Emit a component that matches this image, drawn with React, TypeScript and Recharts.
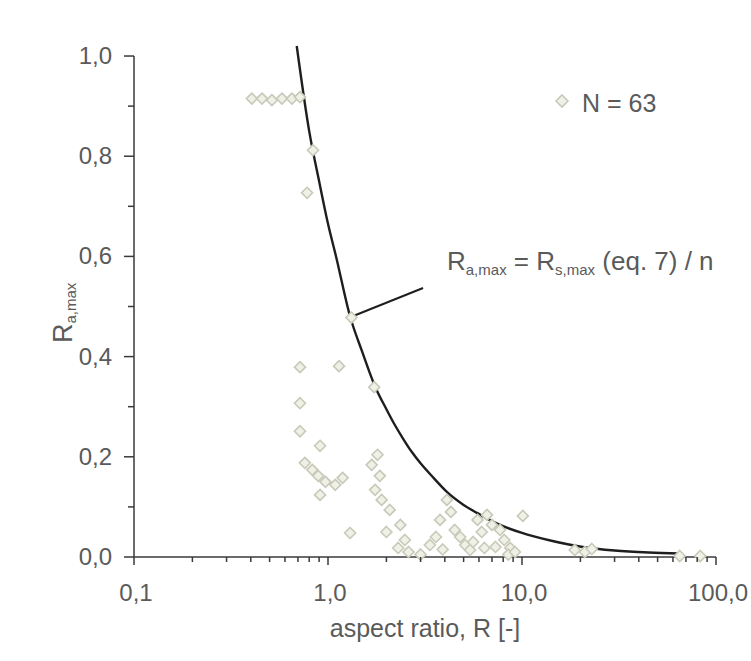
import React from 'react'
import { ComposedChart, Scatter, Line, XAxis, YAxis, ReferenceLine } from 'recharts'

// ── Data ──────────────────────────────────────────────────────────────────

const SCATTER_R = [
  0.405, 0.457, 0.514, 0.579, 0.652, 0.717,
  0.837, 0.78, 1.32, 1.14, 1.73,
  0.717, 0.717, 0.717, 0.91, 0.76, 0.83, 0.89, 0.97, 1.09, 1.19, 0.91, 1.3,
  1.8, 1.68, 1.85, 1.75, 1.89, 2.08, 2.36, 2.49, 2.3,
  4.1, 3.78, 3.35, 4.5, 5.1, 5.9, 6.6, 7.0, 7.7, 8.1, 8.7, 6.4, 5.4, 10.1,
  18.7, 21.1, 22.9, 65, 83,
  2.6, 3.0, 3.6, 4.3, 4.8, 5.6, 6.2, 7.3, 8.5, 9.2, 2.0, 3.9,
]
const SCATTER_Y = [
  0.915, 0.915, 0.912, 0.915, 0.915, 0.918,
  0.812, 0.727, 0.478, 0.381, 0.339,
  0.379, 0.307, 0.251, 0.222, 0.188, 0.174, 0.162, 0.15, 0.144, 0.158, 0.124, 0.048,
  0.204, 0.184, 0.162, 0.134, 0.114, 0.094, 0.064, 0.034, 0.018,
  0.114, 0.074, 0.024, 0.054, 0.024, 0.074, 0.084, 0.064, 0.054, 0.034, 0.018, 0.018, 0.014, 0.082,
  0.014, 0.01, 0.016, 0.002, 0.002,
  0.01, 0.005, 0.04, 0.09, 0.04, 0.03, 0.05, 0.02, 0.005, 0.01, 0.05, 0.015,
]

const CURVE_R = [0.69, 0.8, 0.9, 1.0, 1.1, 1.3, 1.5, 1.75, 2.0, 2.2, 2.44, 2.7, 3.0, 3.5, 4.1, 5.0, 5.86, 7.5, 10, 14, 20.6, 30, 45, 65]
const CURVE_Y = [1.02, 0.85, 0.75, 0.665, 0.6, 0.48, 0.41, 0.34, 0.295, 0.265, 0.236, 0.21, 0.187, 0.158, 0.13, 0.104, 0.088, 0.066, 0.048, 0.033, 0.02, 0.013, 0.009, 0.007]

const X_TICKS = [
  0.1, 0.2, 0.3, 0.4, 0.5, 0.6, 0.7, 0.8, 0.9,
  1, 2, 3, 4, 5, 6, 7, 8, 9,
  10, 20, 30, 40, 50, 60, 70, 80, 90, 100,
]
const Y_TICKS = [0, 0.1, 0.2, 0.3, 0.4, 0.5, 0.6, 0.7, 0.8, 0.9, 1.0]

const LEADER = [{ x: 1.33, y: 0.48 }, { x: 3.09, y: 0.537 }]

const scatterData = SCATTER_R.map((r, i) => ({ r, y: SCATTER_Y[i] }))
const curveData = CURVE_R.map((r, i) => ({ r, y: CURVE_Y[i] }))

// ── Styles ────────────────────────────────────────────────────────────────

const AXIS = '#3a3a3a'
const LABEL = '#5a5a5a'
const FONT = '"Liberation Sans", Arial, sans-serif'

const fmt = (v: number) => v.toFixed(1).replace('.', ',')

function YTick({ x, y, payload }: any) {
  const v = payload.value
  const major = Math.round(v * 10) % 2 === 0
  return (
    <g>
      <line x1={x - (major ? 10 : 6)} x2={x} y1={y} y2={y} stroke={AXIS} strokeWidth={1.5} />
      {major && (
        <text x={x - 22} y={y + 8} textAnchor="end" fontSize={24} fill={LABEL} fontFamily={FONT}>
          {fmt(v)}
        </text>
      )}
    </g>
  )
}

function XTick({ x, y, payload }: any) {
  const v = payload.value
  const major = Math.abs(Math.log10(v) - Math.round(Math.log10(v))) < 1e-6
  return (
    <g>
      <line x1={x} x2={x} y1={y} y2={y + (major ? 8 : 5)} stroke={AXIS} strokeWidth={1.5} />
      {major && (
        <text x={x + 2} y={y + 44} textAnchor="middle" fontSize={24} fill={LABEL} fontFamily={FONT}>
          {fmt(v)}
        </text>
      )}
    </g>
  )
}

function Diamond({ cx, cy }: any) {
  const s = 5.5
  return (
    <path
      d={`M${cx},${cy - s}L${cx + s},${cy}L${cx},${cy + s}L${cx - s},${cy}Z`}
      fill="#f0f1e6" stroke="#c8c9b8" strokeWidth={1.6}
    />
  )
}

export default function App() {
  return (
    <div style={{ position: 'absolute', left: 0, top: 0, width: 751, height: 661, background: '#fff' }}>
      <ComposedChart width={751} height={661} margin={{ top: 46, right: 35, bottom: 0, left: 0 }}>
        <XAxis
          dataKey="r" type="number" scale="log" domain={[0.1, 100]} ticks={X_TICKS} interval={0}
          height={104} tickSize={0} tickMargin={0} tick={<XTick />}
          axisLine={{ stroke: AXIS, strokeWidth: 1.5 }} allowDataOverflow
        />
        <YAxis
          dataKey="y" type="number" domain={[0, 1.02]} ticks={Y_TICKS} interval={0}
          width={134} tickSize={0} tickMargin={0} tick={<YTick />} axisLine={false}
        />
        <ReferenceLine
          segment={[{ x: 0.1, y: 0 }, { x: 0.1, y: 1 }]}
          stroke={AXIS} strokeWidth={1.5} ifOverflow="visible"
        />
        <Scatter data={scatterData} shape={<Diamond />} isAnimationActive={false} />
        <Line
          data={curveData} dataKey="y" type="monotone" stroke="#1e1e1e" strokeWidth={2.4}
          dot={false} activeDot={false} isAnimationActive={false}
        />
        <ReferenceLine segment={LEADER} stroke="#1e1e1e" strokeWidth={2} ifOverflow="visible" />
      </ComposedChart>

      <svg width={751} height={661} style={{ position: 'absolute', left: 0, top: 0, pointerEvents: 'none' }}>
        {/* axis titles */}
        <text x={425} y={637} textAnchor="middle" fontSize={25} fill={LABEL} fontFamily={FONT}>
          aspect ratio, R [-]
        </text>
        <text x={72} y={343} transform="rotate(-90, 72, 343)" fontSize={27} fill={LABEL} fontFamily={FONT}>
          R<tspan fontSize={15} dy={4}>a,max</tspan>
        </text>

        {/* legend */}
        <path d="M562,95L568,101L562,107L556,101Z" fill="#f0f1e6" stroke="#c8c9b8" strokeWidth={1.6} />
        <text x={582} y={112} fontSize={25} fill={LABEL} fontFamily={FONT}>N = 63</text>

        {/* annotation */}
        <text x={447} y={270} fontSize={26} fill={LABEL} fontFamily={FONT}>
          R<tspan fontSize={15} dy={5}>a,max</tspan>
          <tspan dy={-5}> = R</tspan>
          <tspan fontSize={15} dy={5}>s,max</tspan>
          <tspan dy={-5}> (eq. 7) / n</tspan>
        </text>
      </svg>
    </div>
  )
}
